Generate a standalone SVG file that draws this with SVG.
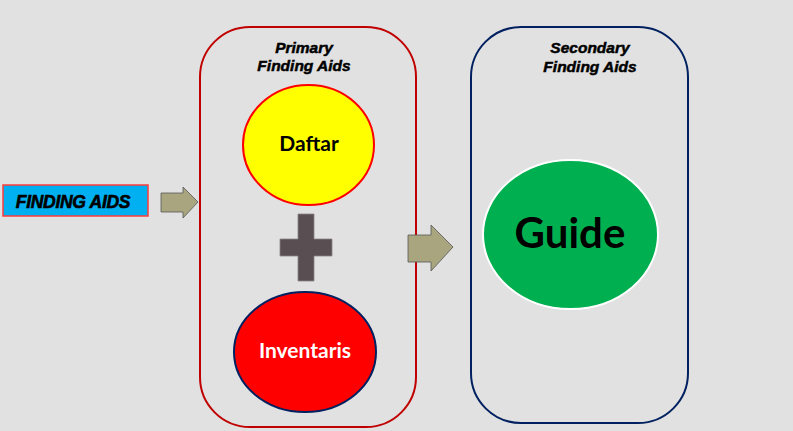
<svg xmlns="http://www.w3.org/2000/svg" width="793" height="431" viewBox="0 0 793 431">
  <style>
    .title { font-family: "Liberation Sans", Arial, sans-serif; font-weight: bold; font-style: italic; font-size: 15.5px; fill: #000; stroke: #000; stroke-width: 0.5; text-anchor: middle; letter-spacing: 0px; }
    .label { font-family: Lato, "Liberation Sans", sans-serif; font-weight: bold; text-anchor: middle; }
    .blockarrow { fill: #a8a57f; stroke: #555; stroke-width: 0.8; }
  </style>
  <rect x="0" y="0" width="793" height="431" fill="#e1e1e1"/>

  <g id="finding-aids">
    <rect x="3" y="185" width="145" height="31" fill="#00b0f0" stroke="#ff3b3b" stroke-width="1.5"/>
    <text x="73" y="207.5" font-family="Liberation Sans, Arial, sans-serif" font-weight="bold" font-style="italic" font-size="17.5" text-anchor="middle" fill="#000" stroke="#000" stroke-width="0.6" letter-spacing="-0.3">FINDING AIDS</text>
  </g>

  <g id="primary">
    <rect x="200" y="27" width="216" height="400" rx="50" ry="50" fill="none" stroke="#c00000" stroke-width="2"/>
    <text class="title" x="304" y="53">Primary</text>
    <text class="title" x="304" y="71">Finding Aids</text>
  </g>

  <g id="daftar">
    <ellipse cx="308.5" cy="145" rx="65.5" ry="60" fill="#ffff00" stroke="#ff0000" stroke-width="2"/>
    <text class="label" x="309" y="151" font-size="21" fill="#000">Daftar</text>
  </g>

  <g id="plus">
    <path d="M298 214 H314 V239 H332 V256 H314 V281 H298 V256 H280 V239 H298 Z" fill="#594f53" stroke="#8a8385" stroke-width="0.8"/>
  </g>

  <g id="inventaris">
    <ellipse cx="305" cy="352" rx="71" ry="60" fill="#ff0000" stroke="#002060" stroke-width="2"/>
    <text class="label" x="305" y="358" font-size="21" fill="#ffffff">Inventaris</text>
  </g>

  <g id="secondary">
    <rect x="471" y="27" width="217" height="396" rx="50" ry="50" fill="none" stroke="#002060" stroke-width="2"/>
    <text class="title" x="590" y="53">Secondary</text>
    <text class="title" x="590" y="72">Finding Aids</text>
  </g>

  <g id="guide">
    <ellipse cx="570.5" cy="234.5" rx="87.5" ry="74.5" fill="#00b050" stroke="#ffffff" stroke-width="2"/>
    <text class="label" x="570" y="248" font-size="42" fill="#000">Guide</text>
  </g>

  <g id="connectors">
    <path class="blockarrow" d="M161 193 H183 V187 L198 202 L183 218 V212 H161 Z"/>
    <path class="blockarrow" d="M408 235 H431 V225 L453 247 L431 271 V262 H408 Z"/>
  </g>
</svg>
